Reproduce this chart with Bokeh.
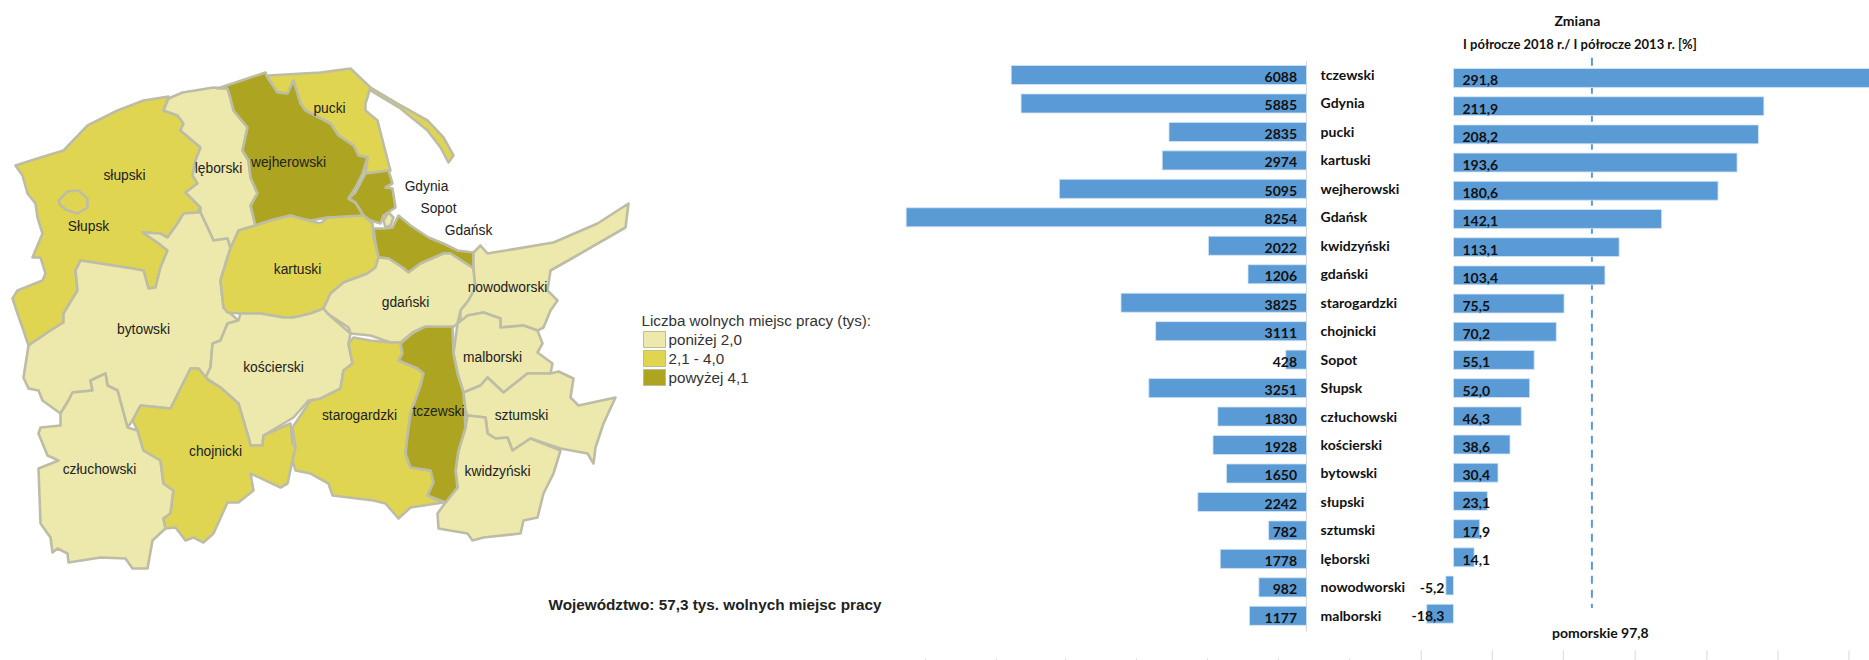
from bokeh.core.properties import value
from bokeh.embed import file_html
from bokeh.layouts import row
from bokeh.models import ColumnDataSource, Range1d
from bokeh.plotting import figure
from bokeh.resources import INLINE

# ---------- chart data ----------
names = ["tczewski", "Gdynia", "pucki", "kartuski", "wejherowski", "Gdańsk", "kwidzyński", "gdański",
         "starogardzki", "chojnicki", "Sopot", "Słupsk", "człuchowski", "kościerski", "bytowski",
         "słupski", "sztumski", "lęborski", "nowodworski", "malborski"]
offers = [6088, 5885, 2835, 2974, 5095, 8254, 2022, 1206, 3825, 3111, 428, 3251, 1830, 1928, 1650,
          2242, 782, 1778, 982, 1177]
change = [291.8, 211.9, 208.2, 193.6, 180.6, 142.1, 113.1, 103.4, 75.5, 70.2, 55.1, 52.0, 46.3, 38.6,
          30.4, 23.1, 17.9, 14.1, -5.2, -18.3]
voivodeship_change_drawn = 94.5
header_1 = "Zmiana"
header_2 = "I półrocze 2018 r./ I półrocze 2013 r. [%]"
voivodeship_label = "pomorskie 97,8"
legend_title = "Liczba wolnych miejsc pracy (tys):"
legend_labels = ["poniżej 2,0", "2,1 - 4,0", "powyżej 4,1"]
legend_note = "Województwo: 57,3 tys. wolnych miejsc pracy"
left_bottom_ticks = [7856, 6392, 4969, 3505, 2041, 577, -887]
right_bottom_ticks = [-22, 26.5, 75, 124, 173, 221.5, 270]

# ---------- map outlines (map pixel coordinates) ----------
slupski = [(15,165),(40,157),(63,150),(87,125),(117,110),(143,100),(168,96),(163,110),(177,115),(183,123),(180,130),(200,147),(195,160),(192,175),(197,183),(185,192),(200,207),(197,212),(183,213),(177,223),(167,237),(160,233),(142,232),(157,242),(167,250),(160,267),(155,287),(148,288),(143,270),(132,268),(100,263),(80,260),(75,270),(77,290),(63,313),(63,322),(50,330),(28,345),(23,330),(17,313),(12,298),(17,290),(42,280),(45,273),(40,257),(32,257),(42,233),(37,217),(35,203),(27,193),(22,175)]
slupsk = [(58,200),(67,191),(78,190),(87,198),(87,207),(77,213),(67,210),(60,205)]
leborski = [(168,98),(182,92),(213,87),(227,88),(230,98),(233,110),(247,127),(242,150),(248,160),(250,177),(257,193),(250,205),(255,225),(238,230),(230,248),(227,238),(213,240),(207,227),(200,212),(200,207),(185,192),(197,183),(192,175),(195,160),(200,147),(180,130),(183,123),(177,115),(163,110)]
wejherowski = [(217,88),(265,72),(267,77),(277,92),(287,93),(293,80),(300,103),(305,110),(330,123),(338,135),(353,145),(358,155),(367,157),(362,173),(355,187),(348,198),(355,202),(363,215),(345,218),(327,217),(310,220),(300,218),(290,215),(270,220),(255,225),(250,205),(257,193),(250,177),(248,160),(242,150),(247,127),(233,110),(230,98),(227,88)]
gdynia = [(355,192),(365,173),(388,170),(392,183),(385,187),(392,188),(395,207),(383,215),(380,223),(370,220),(363,215),(355,202),(348,198)]
sopot = [(383,220),(388,212),(393,217),(390,225),(385,227)]
gdansk = [(373,228),(385,228),(392,227),(398,215),(410,225),(428,237),(443,243),(457,250),(473,252),(473,268),(450,253),(443,253),(420,263),(408,272),(402,267),(388,258),(378,257),(375,243)]
pucki = [(268,75),(320,72),(350,68),(370,87),(365,103),(365,110),(377,120),(388,163),(390,170),(365,173),(367,157),(358,155),(353,145),(338,135),(330,123),(305,110),(300,103),(293,80),(287,93),(277,92),(267,77)]
hel = [(370,87),(397,103),(427,120),(443,137),(453,155),(448,162),(440,147),(427,130),(400,108),(370,90)]
kartuski = [(255,225),(270,220),(290,215),(300,218),(320,223),(327,217),(363,215),(372,223),(373,237),(378,257),(375,267),(367,273),(343,282),(330,293),(323,308),(310,313),(293,317),(283,317),(260,313),(240,313),(227,312),(223,307),(220,280),(227,257),(230,248),(238,230)]
gdanski = [(323,308),(330,293),(343,282),(367,273),(375,267),(378,257),(388,258),(402,267),(408,272),(420,263),(443,253),(450,253),(473,268),(475,287),(468,300),(460,310),(457,323),(452,327),(423,327),(412,332),(400,342),(390,342),(370,335),(350,333),(348,327),(327,313)]
nowodworski = [(473,252),(480,245),(487,253),(553,242),(597,223),(628,203),(625,227),(573,257),(550,270),(547,290),(557,300),(550,310),(543,327),(537,330),(523,325),(500,327),(500,318),(483,312),(467,315),(460,323),(460,310),(468,300),(475,287),(473,268)]
malborski = [(457,323),(467,315),(483,312),(500,318),(500,327),(523,325),(537,330),(542,343),(537,352),(552,363),(550,373),(527,373),(503,392),(487,377),(480,385),(463,392),(457,373),(453,353)]
sztumski = [(463,392),(480,385),(487,377),(503,392),(527,373),(550,373),(558,371),(573,378),(570,397),(578,405),(615,397),(603,423),(595,447),(593,463),(587,453),(560,448),(530,438),(512,450),(507,437),(495,438),(487,433),(485,417),(467,415),(465,410)]
kwidzynski = [(467,415),(485,417),(487,433),(495,438),(507,437),(512,450),(530,438),(560,450),(553,473),(543,493),(537,517),(523,520),(520,533),(483,537),(472,540),(467,533),(438,528),(437,513),(445,502),(457,487),(455,470),(458,450),(465,427)]
tczewski = [(413,332),(425,326),(452,326),(453,353),(457,373),(463,392),(465,427),(458,450),(455,470),(457,487),(445,502),(427,495),(433,482),(430,470),(410,467),(405,453),(407,435),(410,413),(420,385),(423,373),(417,368),(398,360),(402,353),(400,343)]
starogardzki = [(353,337),(370,340),(390,342),(400,342),(402,353),(398,360),(417,368),(423,373),(420,385),(410,413),(407,435),(405,453),(410,467),(430,470),(433,482),(427,495),(443,502),(410,507),(398,518),(385,503),(373,500),(332,495),(328,483),(310,473),(295,470),(292,460),(295,447),(292,427),(310,400),(320,398),(340,388),(343,370),(352,363),(348,343)]
koscierski = [(238,320),(227,323),(220,340),(212,343),(210,367),(205,377),(220,387),(238,403),(248,437),(250,445),(262,445),(263,435),(293,417),(308,400),(323,398),(340,388),(343,370),(352,363),(348,343),(350,333),(327,313),(323,308),(310,313),(293,317),(283,317),(260,313),(240,313)]
bytowski = [(200,212),(207,227),(213,240),(227,238),(230,248),(227,257),(220,280),(223,307),(238,320),(227,323),(220,340),(212,343),(210,367),(205,377),(198,368),(190,368),(183,382),(170,408),(140,405),(132,420),(127,427),(117,390),(107,385),(105,373),(90,380),(92,390),(72,392),(68,400),(60,413),(42,400),(38,390),(28,388),(23,377),(28,345),(50,330),(63,322),(63,313),(77,290),(75,270),(80,260),(100,263),(132,268),(143,270),(148,288),(155,287),(160,267),(167,250),(157,242),(142,232),(160,233),(167,237),(177,223),(183,213),(197,212)]
czluchowski = [(60,413),(68,400),(72,392),(92,390),(90,380),(105,373),(107,385),(117,390),(127,427),(137,430),(143,450),(160,460),(163,483),(173,490),(170,513),(163,518),(165,528),(152,540),(147,568),(132,568),(125,558),(100,557),(68,562),(67,553),(57,548),(52,552),(50,537),(40,523),(38,468),(58,460),(47,455),(38,433),(40,427),(60,425)]
chojnicki = [(190,368),(198,368),(208,380),(220,387),(238,403),(248,437),(250,445),(262,445),(263,435),(290,423),(292,443),(295,447),(292,460),(287,483),(280,487),(250,473),(253,490),(238,502),(227,502),(213,533),(203,542),(193,537),(185,540),(175,527),(165,528),(163,518),(170,513),(173,490),(163,483),(160,460),(143,450),(137,430),(132,420),(140,405),(170,408),(183,382)]

map_shapes = [("słupski", slupski), ("Słupsk", slupsk), ("lęborski", leborski), ("pucki", hel), ("pucki", pucki),
              ("wejherowski", wejherowski), ("Gdynia", gdynia), ("Sopot", sopot), ("Gdańsk", gdansk),
              ("bytowski", bytowski), ("człuchowski", czluchowski), ("kartuski", kartuski), ("gdański", gdanski),
              ("kościerski", koscierski), ("chojnicki", chojnicki), ("starogardzki", starogardzki),
              ("nowodworski", nowodworski), ("malborski", malborski), ("sztumski", sztumski),
              ("kwidzyński", kwidzynski), ("tczewski", tczewski)]

map_label_x = [124, 88, 218, 288, 329, 426, 438, 468, 297, 405, 507, 492, 521, 438, 359, 497, 273, 143, 215, 99]
map_label_y = [175, 226, 168, 162, 108, 186, 208, 230, 269, 302, 287, 357, 415, 411, 415, 471, 367, 329, 451, 469]
map_label_text = ["słupski", "Słupsk", "lęborski", "wejherowski", "pucki", "Gdynia", "Sopot", "Gdańsk", "kartuski",
                  "gdański", "nowodworski", "malborski", "sztumski", "tczewski", "starogardzki", "kwidzyński",
                  "kościerski", "bytowski", "chojnicki", "człuchowski"]

# ---------- styles ----------
CLASS_COLORS = ["#EDE8AB", "#DFD551", "#ADA521"]
BORDER = "#BDBDA6"
BAR = "#5B9BD5"
ARIAL = value("Liberation Sans")
CHART_FONT = value("Lato")
CHART_SIZE = "14px"
CHART_INK = "#111111"


def cls(v):
    return 0 if v < 2050 else (1 if v <= 4000 else 2)


def base_fig(width, xr, yr):
    f = figure(width=width, height=660, x_range=xr, y_range=yr, x_axis_type=None, y_axis_type=None,
               output_backend="svg", toolbar_location=None, min_border=0)
    f.grid.visible = False
    f.outline_line_color = None
    f.background_fill_color = None
    f.border_fill_color = None
    return f


# ---------- map ----------
lookup = dict(zip(names, offers))
pm = base_fig(898, Range1d(0, 898), Range1d(660, 0))
pm.patches(xs=[[c[0] for c in s] for _, s in map_shapes],
           ys=[[c[1] for c in s] for _, s in map_shapes],
           fill_color=[CLASS_COLORS[cls(lookup[n])] for n, _ in map_shapes],
           line_color=BORDER, line_width=2.6, line_join="round")
pm.text(x=map_label_x, y=map_label_y, text=map_label_text, text_font=ARIAL, text_font_size="13.8px",
        text_color="#222222", text_align="center", text_baseline="middle")

legend_y = [339, 358, 377]
pm.text(x=[641], y=[320], text=[legend_title], text_font=ARIAL, text_font_size="15.2px",
        text_color="#333333", text_baseline="middle")
pm.rect(x=[654] * 3, y=legend_y, width=22, height=16, fill_color=CLASS_COLORS, line_color="#BDBD90", line_width=1)
pm.text(x=[668] * 3, y=legend_y, text=legend_labels, text_font=ARIAL, text_font_size="15.2px",
        text_color="#333333", text_baseline="middle")
pm.text(x=[548], y=[604], text=[legend_note], text_font=ARIAL, text_font_size="15.3px", text_font_style="bold",
        text_color="#222222", text_baseline="middle")

# ---------- left bars and category names ----------
rows = list(range(len(names)))
src = ColumnDataSource(dict(y=rows, name=names, offers=offers, change=change,
                            offers_txt=[str(v) for v in offers]))
pl = base_fig(510, Range1d(8412, -2103), Range1d(20.57, -2.617))
pl.segment(x0=left_bottom_ticks, x1=left_bottom_ticks, y0=[20.5] * len(left_bottom_ticks),
           y1=[20.57] * len(left_bottom_ticks), line_color="#D9D9D9", line_width=1)
pl.segment(x0=[0], x1=[0], y0=[-0.5], y1=[19.55], line_color="#D9D9D9", line_width=1.2)
pl.hbar(y="y", left=0, right="offers", height=0.67, source=src, fill_color=BAR, line_color="#D5E5F5", line_width=0.8)
pl.text(x=0, y="y", text="offers_txt", source=src, x_offset=-9.5, y_offset=2, text_align="right",
        text_baseline="middle", text_font=CHART_FONT, text_font_style="bold", text_font_size=CHART_SIZE,
        text_color=CHART_INK)
pl.text(x=-290, y="y", text="name", source=src, y_offset=-0.5, text_align="left", text_baseline="middle",
        text_font=CHART_FONT, text_font_style="bold", text_font_size=CHART_SIZE, text_color=CHART_INK)

# ---------- right bars ----------
pr = base_fig(461, Range1d(-30.7, 284), Range1d(20.66, -2.748))
pr.segment(x0=right_bottom_ticks, x1=right_bottom_ticks, y0=[20.3] * len(right_bottom_ticks),
           y1=[20.66] * len(right_bottom_ticks), line_color="#D9D9D9", line_width=1)
pr.segment(x0=[voivodeship_change_drawn], x1=[voivodeship_change_drawn], y0=[-0.72], y1=[18.8], line_color=BAR,
           line_width=2, line_dash="8 6")
pr.hbar(y="y", left=0, right="change", height=0.67, source=src, fill_color=BAR, line_color="#D5E5F5", line_width=0.8)
pos = ColumnDataSource(dict(y=[r for r, v in zip(rows, change) if v >= 0],
                            t=[f"{v:.1f}".replace(".", ",") for v in change if v >= 0]))
neg = ColumnDataSource(dict(y=[r for r, v in zip(rows, change) if v < 0],
                            t=[f"{v:.1f}".replace(".", ",") for v in change if v < 0]))
pr.text(x=0, y="y", text="t", source=pos, x_offset=9, y_offset=2.5, text_align="left", text_baseline="middle",
        text_font=CHART_FONT, text_font_style="bold", text_font_size=CHART_SIZE, text_color=CHART_INK)
pr.text(x=0, y="y", text="t", source=neg, x_offset=-9, y_offset=2.5, text_align="right", text_baseline="middle",
        text_font=CHART_FONT, text_font_style="bold", text_font_size=CHART_SIZE, text_color=CHART_INK)
pr.text(x=[84.6], y=[-2.04], text=[header_1], text_align="center", text_baseline="middle",
        text_font=CHART_FONT, text_font_style="bold", text_font_size=CHART_SIZE, text_color=CHART_INK)
pr.text(x=[86.3], y=[-1.19], text=[header_2], text_align="center", text_baseline="middle",
        text_font=CHART_FONT, text_font_style="bold", text_font_size="13px", text_color=CHART_INK)
pr.text(x=[100.3], y=[19.66], text=[voivodeship_label], text_align="center", text_baseline="middle",
        text_font=CHART_FONT, text_font_style="bold", text_font_size=CHART_SIZE, text_color=CHART_INK)

page = row(pm, pl, pr, spacing=0)
open("out.html", "w").write(file_html(page, INLINE))
